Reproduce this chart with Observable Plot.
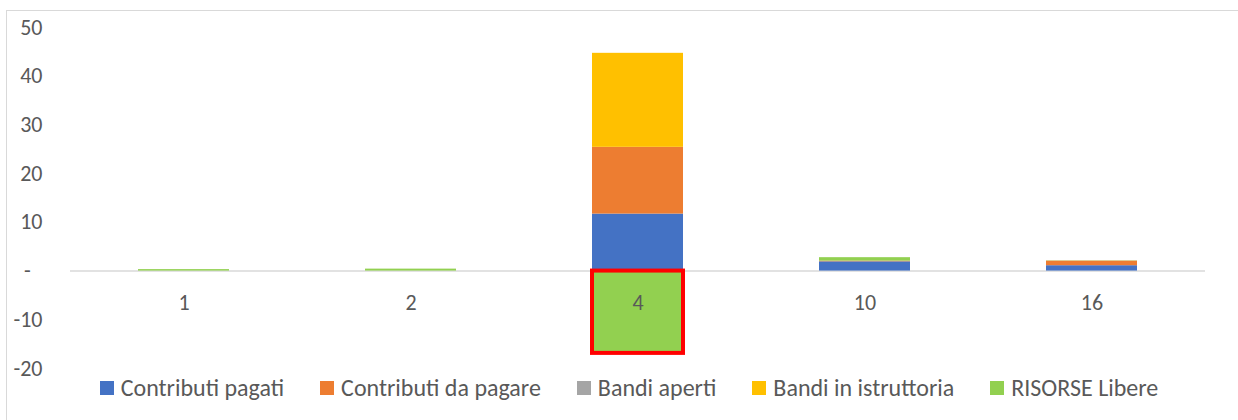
<!DOCTYPE html>
<html><head><meta charset="utf-8">
<script src="https://cdn.jsdelivr.net/npm/d3@7"></script>
<script src="https://cdn.jsdelivr.net/npm/@observablehq/plot@0.6"></script>
<style>
body{margin:0;background:#fff;}
#chart{position:relative;width:1238px;height:420px;overflow:hidden;font-family:Carlito,Lato,sans-serif;color:#595959;}
#frame{position:absolute;left:6px;top:10px;right:-3px;bottom:-3px;border:1px solid #d9d9d9;}
#plot{position:absolute;left:0;top:0;}
#legend{position:absolute;left:0;width:1258px;top:375px;display:flex;justify-content:center;gap:36px;font-size:24px;line-height:26px;}
.item{display:flex;align-items:center;gap:7px;white-space:nowrap;}
.sw{width:14px;height:14px;display:inline-block;}
</style></head><body>
<div id="chart"><div id="frame"></div><div id="plot"></div><div id="legend"></div></div>
<script>
const categories = ["1", "2", "4", "10", "16"];
const seriesNames = ["Contributi pagati", "Contributi da pagare", "Bandi aperti", "Bandi in istruttoria", "RISORSE Libere"];
const contributiPagati   = [0,    0,    11.7, 1.9,  1.1];
const contributiDaPagare = [0,    0,    13.7, 0.15, 0.95];
const bandiAperti        = [0,    0,    0,    0,    0];
const bandiInIstruttoria = [0,    0,    19.3, 0,    0];
const risorseLibere      = [0.3,  0.4, -16.9, 0.7,  0.05];
const yTicks = [-20, -10, 0, 10, 20, 30, 40, 50];
const colors = ["#4472C4", "#ED7D31", "#A5A5A5", "#FFC000", "#92D050"];
const highlightCategory = "4";
const highlightSeries = "RISORSE Libere";

const seriesValues = [contributiPagati, contributiDaPagare, bandiAperti, bandiInIstruttoria, risorseLibere];
const data = seriesNames.flatMap((s, i) => categories.map((c, j) => ({category: c, series: s, value: seriesValues[i][j]})));
const fontFamily = "Carlito, Lato, sans-serif";

const plot = Plot.plot({
  width: 1238, height: 380,
  marginLeft: 70, marginRight: 33, marginTop: 27, marginBottom: 12,
  x: {domain: categories, paddingInner: 0.6, paddingOuter: 0.3, axis: null},
  y: {domain: [-20, 50], axis: null},
  color: {domain: seriesNames, range: colors},
  style: {fontFamily, fontSize: "22px", color: "#595959", background: "transparent", overflow: "visible"},
  marks: [
    Plot.axisY({ticks: yTicks, label: null, tickSize: 0, tickPadding: 28, tickFormat: d => d === 0 ? "-\u2007" : String(d)}),
    Plot.ruleY([0], {stroke: "#d9d9d9", strokeWidth: 1.5}),
    Plot.barY(data, {x: "category", y: "value", fill: "series"}),
    Plot.barY(data.filter(d => d.category === highlightCategory && d.series === highlightSeries),
      {x: "category", y: "value", fill: "none", stroke: "#FF0000", strokeWidth: 4}),
    Plot.text(categories, {x: d => d, y: () => 0, dy: 32, fill: "#595959", fontSize: 22})
  ]
});
document.getElementById("plot").appendChild(plot);

const legend = document.getElementById("legend");
seriesNames.forEach((s, i) => {
  const it = document.createElement("div");
  it.className = "item";
  const sw = document.createElement("span");
  sw.className = "sw";
  sw.style.background = colors[i];
  const tx = document.createElement("span");
  tx.textContent = s;
  it.appendChild(sw); it.appendChild(tx);
  legend.appendChild(it);
});
</script>
</body></html>
